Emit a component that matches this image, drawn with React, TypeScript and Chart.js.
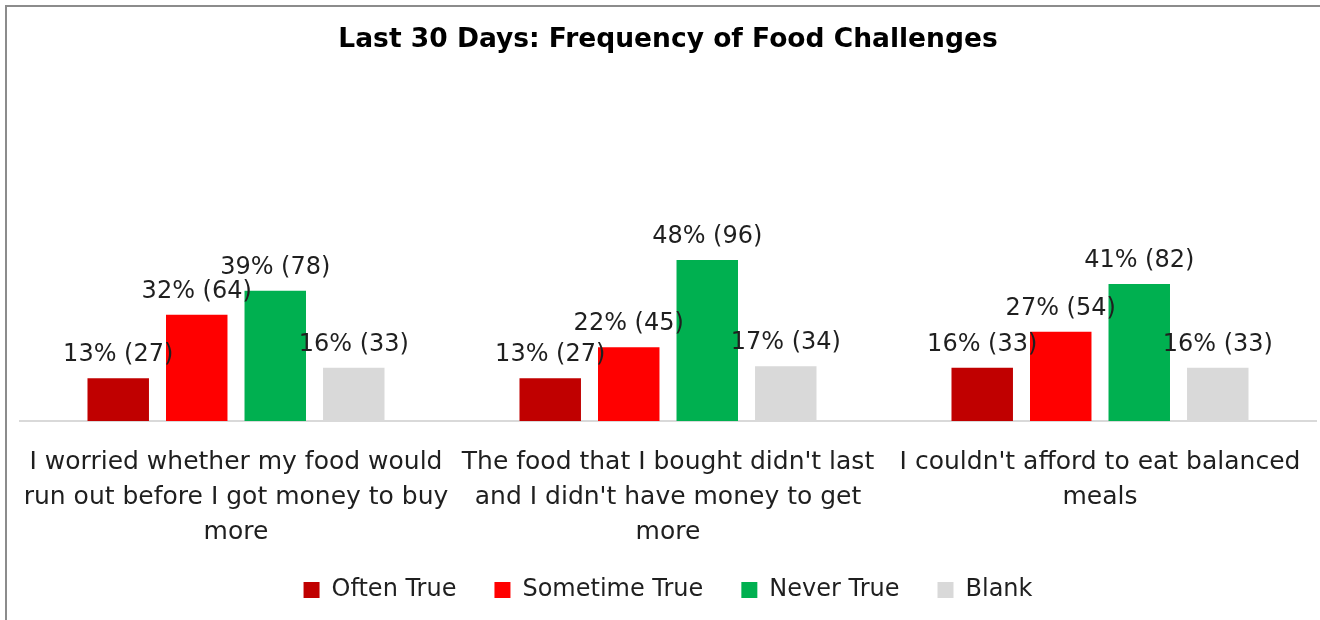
import React, { useEffect, useRef } from "react";
import { Chart, registerables } from "chart.js";

Chart.register(...registerables);

const categories: string[][] = [
  ["I worried whether my food would", "run out before I got money to buy", "more"],
  ["The food that I bought didn't last", "and I didn't have money to get", "more"],
  ["I couldn't afford to eat balanced", "meals"],
];

const seriesNames = ["Often True", "Sometime True", "Never True", "Blank"];
const seriesColors = ["#C00000", "#FF0000", "#00B050", "#D9D9D9"];

const oftenTrueCounts = [27, 27, 33];
const sometimeTrueCounts = [64, 45, 54];
const neverTrueCounts = [78, 96, 82];
const blankCounts = [33, 34, 33];

const oftenTruePct = [13, 13, 16];
const sometimeTruePct = [32, 22, 27];
const neverTruePct = [39, 48, 41];
const blankPct = [16, 17, 16];

const countSeries = [oftenTrueCounts, sometimeTrueCounts, neverTrueCounts, blankCounts];
const pctSeries = [oftenTruePct, sometimeTruePct, neverTruePct, blankPct];

const TEXT = "#1f1f1f";
const FONT = "'DejaVu Sans'";

const valueLabels = {
  id: "valueLabels",
  afterDatasetsDraw(chart: any) {
    const ctx = chart.ctx;
    ctx.save();
    ctx.font = `24px ${FONT}`;
    ctx.fillStyle = TEXT;
    ctx.textAlign = "center";
    ctx.textBaseline = "alphabetic";
    chart.data.datasets.forEach((ds: any, di: number) => {
      const meta = chart.getDatasetMeta(di);
      if (meta.hidden) return;
      meta.data.forEach((bar: any, i: number) => {
        ctx.fillText(`${pctSeries[di][i]}% (${ds.data[i]})`, bar.x, bar.y - 17);
      });
    });
    ctx.restore();
  },
};

export default function App() {
  const ref = useRef<HTMLCanvasElement | null>(null);

  useEffect(() => {
    if (!ref.current) return;
    const chart = new Chart(ref.current, {
      type: "bar",
      data: {
        labels: categories,
        datasets: seriesNames.map((name, i) => ({
          label: name,
          data: countSeries[i],
          backgroundColor: seriesColors[i],
          borderWidth: 0,
          base: 2,
          categoryPercentage: 0.727,
          barPercentage: 0.783,
        })),
      },
      options: {
        animation: false,
        responsive: false,
        maintainAspectRatio: false,
        layout: { padding: { left: 20, right: 4, top: 0, bottom: 8 } },
        font: { family: FONT },
        plugins: {
          title: {
            display: true,
            text: "Last 30 Days: Frequency of Food Challenges",
            color: "#000000",
            font: { family: FONT, size: 26.5, weight: "bold", lineHeight: 1.2 },
            padding: { top: 24, bottom: 22.4 },
          },
          legend: {
            display: true,
            position: "bottom",
            labels: {
              color: TEXT,
              font: { family: FONT, size: 24 },
              boxWidth: 16,
              boxHeight: 16,
              padding: 38,
            },
          },
          tooltip: { enabled: false },
        },
        scales: {
          x: {
            grid: { display: false, drawTicks: false },
            border: { display: true, color: "#D9D9D9", width: 2 },
            ticks: {
              color: TEXT,
              font: { family: FONT, size: 25, lineHeight: 35 / 25 },
              padding: 24,
              maxRotation: 0,
              autoSkip: false,
            },
            afterFit: (scale: any) => {
              scale.height = 119;
              scale.paddingLeft = 0;
              scale.paddingRight = 0;
            },
          },
          y: {
            display: false,
            min: 2,
            max: 202,
          },
        },
      } as any,
      plugins: [valueLabels],
    });
    return () => chart.destroy();
  }, []);

  return (
    <div style={{ position: "absolute", left: 0, top: 0, width: 1320, height: 620, background: "#fff" }}>
      <canvas ref={ref} width={1320} height={620} style={{ display: "block", width: 1320, height: 620 }} />
      <div
        style={{
          position: "absolute",
          left: 5,
          top: 5,
          width: 1320,
          height: 620,
          borderTop: "2px solid #8C8C8C",
          borderLeft: "2px solid #8C8C8C",
          pointerEvents: "none",
        }}
      />
    </div>
  );
}
